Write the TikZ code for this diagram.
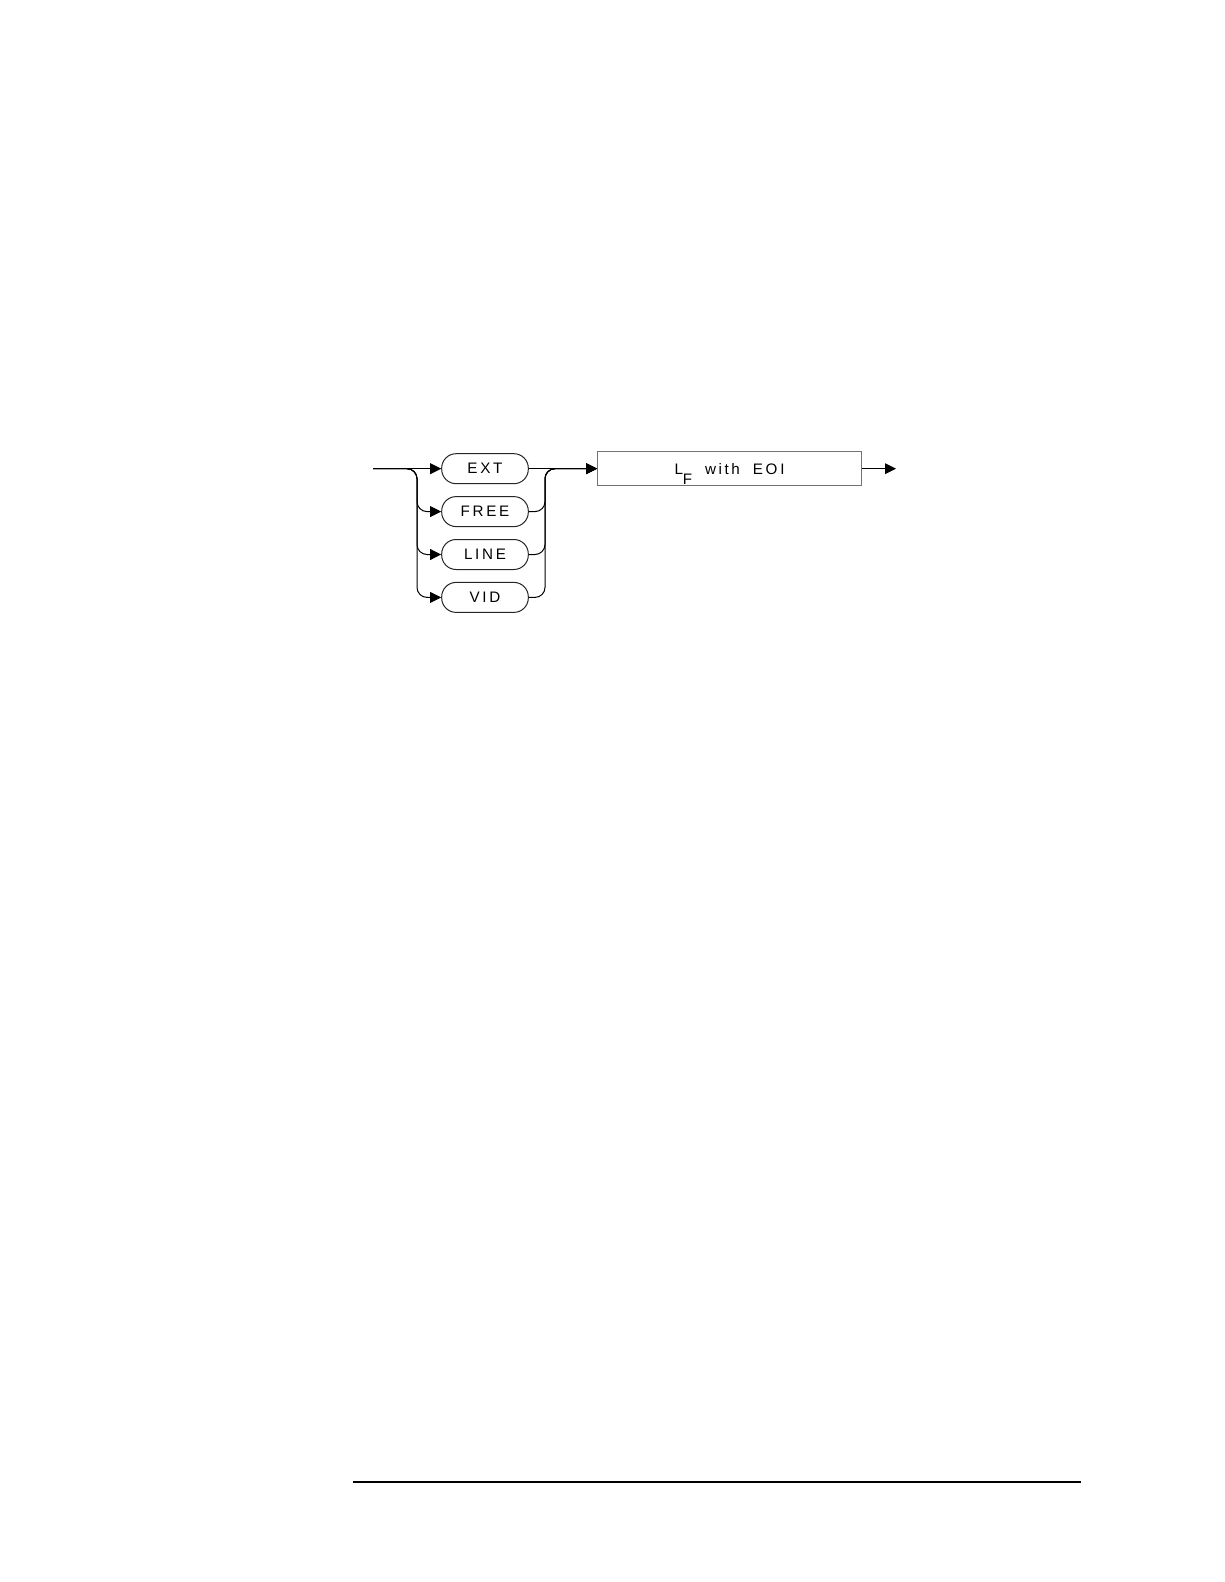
\documentclass[tikz,border=0pt]{standalone}
\usepackage{fontspec}
\setmainfont{Liberation Sans}[LetterSpace=18]
\usetikzlibrary{arrows.meta}
\begin{document}
\begin{tikzpicture}[x=0.5pt,y=-0.5pt,
  line width=0.5pt,
  capsule/.style={draw=black!85, rounded corners=7.2pt, minimum width=43.3pt, minimum height=15pt, inner sep=0pt, font=\fontsize{7.6}{8}\selectfont},
  termbox/.style={draw=black!55, minimum width=132pt, minimum height=17pt, inner sep=0pt, font=\fontsize{7.6}{8}\selectfont},
  arr/.style={-{Triangle[length=5.5pt,width=5.4pt]}},
  branch/.style={arr, rounded corners=5pt}]
\useasboundingbox (0,0) rectangle (1224,1582);
\coordinate (start) at (373,468.7);
\node[capsule] (ext)  at (485,468.7) {EXT};
\node[capsule] (free) at (485,511.6) {FREE};
\node[capsule] (line) at (485,554.5) {L\,INE};
\node[capsule] (vid)  at (485,597.4) {VID};
\node[termbox] (lf) at (729.5,468.7) {L\raisebox{-5.3pt}[0pt][0pt]{F}\hspace{6.5pt}w\,i\,t\,h\hspace{6.5pt}EOI};
\coordinate (exit) at (896,468.7);
\draw[arr] (start) -- (ext.west);
\foreach \n in {free,line,vid}{
  \draw[branch] (start) -| ([xshift=-12.1pt]\n.west) -- (\n.west);
  \draw[branch] (\n.east) -| ([xshift=8.1pt]ext.east) -- (lf.west);
}
\draw[arr] (ext.east) -- (lf.west);
\draw[arr] (lf.east) -- (exit);
\coordinate (r1) at (353,1482);
\coordinate (r2) at (1081,1482);
\draw[line width=1.2pt] (r1) -- (r2);
\end{tikzpicture}
\end{document}
